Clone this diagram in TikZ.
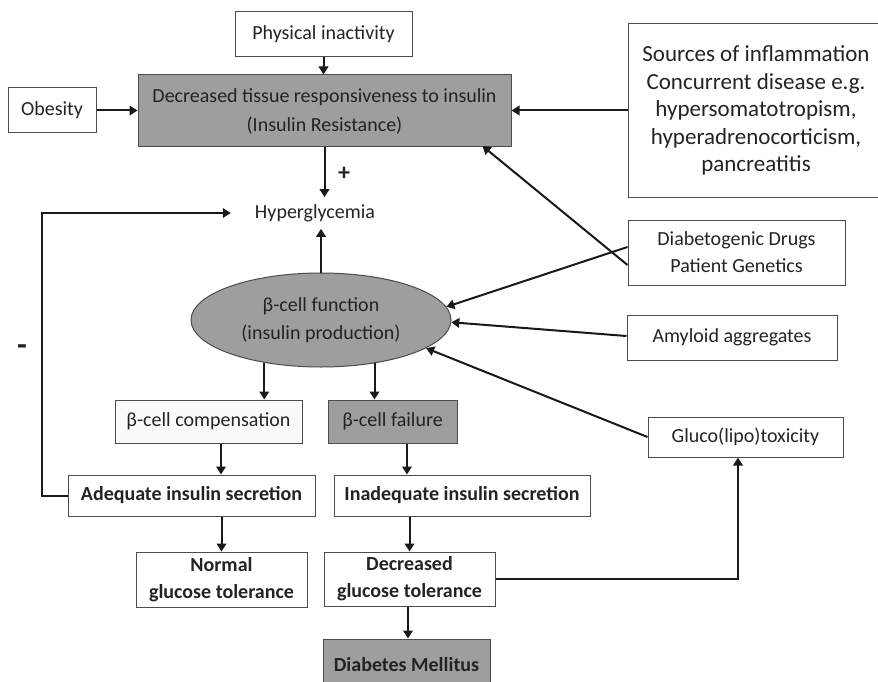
\documentclass[tikz,border=0pt]{standalone}
\usepackage{fontspec}
\setmainfont{Carlito}
\usetikzlibrary{arrows.meta,shapes.geometric}
\definecolor{boxgray}{RGB}{158,158,158}
\definecolor{lightfill}{RGB}{250,250,250}
\definecolor{txt}{RGB}{35,35,35}
\begin{document}
\begin{tikzpicture}[x=1pt,y=-1pt,
  box/.style={draw=black!70, line width=1pt, rectangle, inner sep=0pt, align=center, text=txt,
    font=\fontsize{20}{27.5}\selectfont},
  bbox/.style={box, font=\fontsize{20}{27}\selectfont\bfseries},
  gbox/.style={box, fill=boxgray},
  arr/.style={-{Triangle[length=8pt,width=9.5pt]}, line width=2pt, draw=black!90},
  ln/.style={line width=2pt, draw=black!90}]
\useasboundingbox (0,0) rectangle (878,682);

\node[box, minimum width=177pt, minimum height=45pt] (phys) at (323.5,34.5) {Physical inactivity};
\node[box, minimum width=88pt, minimum height=45pt] (obes) at (52,110.5) {Obesity};
\node[gbox, minimum width=373pt, minimum height=72pt, font=\fontsize{20}{29}\selectfont] (ir) at (324.5,111) {Decreased tissue responsiveness to insulin\\(Insulin Resistance)};
\node[box, minimum width=252pt, minimum height=173pt, font=\fontsize{23}{27.5}\selectfont] (src) at (754,110.5) {\hspace*{4pt}Sources of inflammation\\\hspace*{4pt}Concurrent disease e.g.\\\hspace*{4pt}hypersomatotropism,\\\hspace*{4pt}hyperadrenocorticism,\\\hspace*{4pt}pancreatitis};
\node[inner xsep=24pt, inner ysep=7pt, text=txt, font=\fontsize{20}{24}\selectfont] (hyper) at (315,213) {Hyperglycemia};
\node[box, minimum width=217pt, minimum height=65pt, font=\fontsize{20}{27}\selectfont] (diab) at (736.5,252.5) {Diabetogenic Drugs\\Patient Genetics};
\node[ellipse, draw=black!70, line width=1pt, fill=boxgray, minimum width=260pt, minimum height=94pt, inner sep=0pt, align=center, text=txt, font=\fontsize{20}{28}\selectfont] (ell) at (321,320) {β-cell function\\(insulin production)};
\node[box, minimum width=210pt, minimum height=45pt] (amy) at (732,337.5) {Amyloid aggregates};
\node[box, minimum width=195pt, minimum height=40pt] (gluco) at (745.5,437) {Gluco(lipo)toxicity};
\node[box, fill=lightfill, minimum width=187pt, minimum height=43pt] (comp) at (208.5,421.5) {β-cell compensation};
\node[gbox, minimum width=129pt, minimum height=43pt] (fail) at (392.5,421.5) {β-cell failure};
\node[bbox, minimum width=247pt, minimum height=41pt] (adeq) at (191.5,495.5) {Adequate insulin secretion};
\node[bbox, minimum width=256pt, minimum height=41pt] (inad) at (462,495.5) {Inadequate insulin secretion};
\node[bbox, minimum width=171pt, minimum height=55pt] (norm) at (221.5,579.5) {Normal\\glucose tolerance};
\node[bbox, minimum width=171pt, minimum height=54pt] (dgt) at (409.5,579) {Decreased\\glucose tolerance};
\node[bbox, fill=boxgray, minimum width=167pt, minimum height=51pt, text depth=0pt] (dm) at (406.5,664.5) {Diabetes Mellitus};

\node[font=\fontsize{24}{24}\selectfont\bfseries, text=txt] (plus) at (344,174) {+};
\node[font=\fontsize{32}{32}\selectfont\bfseries, text=txt] (minus) at (22,350) {-};

\coordinate (fbk) at (42,495.5);

\draw[arr] (phys.south) -- (phys.south |- ir.north);
\draw[arr] (obes.east) -- (obes.east -| ir.west);
\draw[arr] (src.west) -- (src.west -| ir.east);
\draw[arr] (ir.south) -- (ir.south |- hyper.north);
\draw[arr] (ell.north) -- (ell.north |- hyper.south);
\draw[arr] (adeq.west) -- (fbk) |- (hyper.west);
\draw[arr] ([yshift=-12.5pt]diab.west) -- ([xshift=-29pt,yshift=1.5pt]ir.south east);
\draw[arr] ([yshift=5.5pt]diab.west) -- (ell.6);
\draw[arr] ([yshift=1.5pt]amy.west) -- (ell.-1);
\draw[arr] (gluco.west) -- (ell.-15);
\draw[arr] (ell.-143) -- (ell.-143 |- comp.north);
\draw[arr] (ell.-39) -- (ell.-39 |- fail.north);
\draw[arr] ([xshift=12.5pt]comp.south) -- ([xshift=12.5pt]comp.south |- adeq.north);
\draw[arr] ([xshift=14.5pt]fail.south) -- ([xshift=14.5pt]fail.south |- inad.north);
\draw[arr] (norm.north |- adeq.south) -- (norm.north);
\draw[arr] (dgt.north |- inad.south) -- (dgt.north);
\draw[arr] ([xshift=-1.5pt]dgt.south) -- ([xshift=-1.5pt]dgt.south |- dm.north);
\draw[arr] (dgt.east) -| ([xshift=-7.5pt]gluco.south);
\end{tikzpicture}
\end{document}
